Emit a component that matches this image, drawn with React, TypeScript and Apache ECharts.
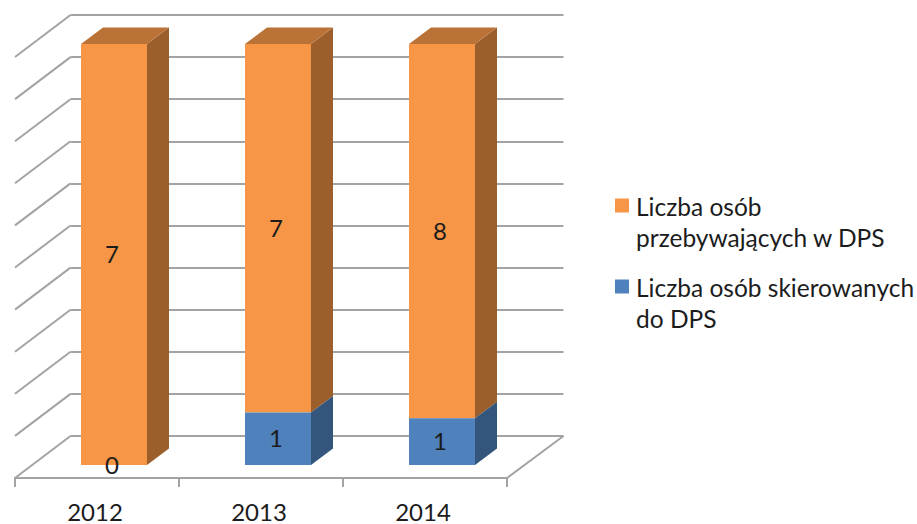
import React, { useEffect, useRef } from "react";
import * as echarts from "echarts";

const categories = ["2012", "2013", "2014"];
const residentsName = "Liczba osób\nprzebywających w DPS";
const referredName = "Liczba osób skierowanych\ndo DPS";
const residents = [7, 7, 8];
const referred = [0, 1, 1];
const wallTicks = [0, 10, 20, 30, 40, 50, 60, 70, 80, 90, 100];

const FONT = "Lato, Carlito, sans-serif";
const TEXT = "#1c1c1c";
const GRID_LINE = "#a3a3a3";

// Depth of the chart floor and of the bars, in pixels of the oblique projection
const FLOOR_DX = 55.5;
const FLOOR_DY = -42;
const BAR_DX = 22;
const BAR_DY = -16.5;
const BAR_WIDTH = 66;

// Excel's 100% stacked column: segments are shares of each year's total
const share = (part: number[], other: number[]) =>
  part.map((v, i) => (v / (v + other[i])) * 100);
const referredShare = share(referred, residents);
const residentsShare = share(residents, referred);

function barSeries(
  name: string,
  counts: number[],
  shares: number[],
  bases: number[],
  colors: { front: string; side: string; top?: string },
  z: number
) {
  return {
    type: "custom",
    name,
    xAxisIndex: 2,
    yAxisIndex: 2,
    z,
    clip: false,
    silent: true,
    itemStyle: { color: colors.front },
    data: counts.map((c, i) => [i, shares[i], bases[i], c]),
    encode: { x: 0, y: 1 },
    renderItem: (_p: any, api: any) => {
      const idx = api.value(0);
      const val = api.value(1);
      const base = api.value(2);
      const count = api.value(3);
      const bottom = api.coord([idx, base]);
      const top = api.coord([idx, base + val]);
      const l = bottom[0] - BAR_WIDTH / 2;
      const r = bottom[0] + BAR_WIDTH / 2;
      const by = bottom[1];
      const ty = top[1];
      const children: any[] = [];
      if (by - ty > 0.01) {
        children.push({
          type: "polygon",
          shape: { points: [[r, by], [r + BAR_DX, by + BAR_DY], [r + BAR_DX, ty + BAR_DY], [r, ty]] },
          style: { fill: colors.side },
        });
        if (colors.top) {
          children.push({
            type: "polygon",
            shape: { points: [[l, ty], [r, ty], [r + BAR_DX, ty + BAR_DY], [l + BAR_DX, ty + BAR_DY]] },
            style: { fill: colors.top },
          });
        }
        children.push({
          type: "rect",
          shape: { x: l, y: ty, width: BAR_WIDTH, height: by - ty },
          style: { fill: colors.front },
        });
      }
      children.push({
        type: "text",
        z2: 10,
        style: {
          x: bottom[0] - 2,
          y: (by + ty) / 2 - 1,
          text: String(count),
          fill: TEXT,
          font: `24px ${FONT}`,
          align: "center",
          verticalAlign: "middle",
        },
      });
      return { type: "group", children };
    },
  };
}

const option: any = {
  animation: false,
  backgroundColor: "#ffffff",
  grid: [
    // front edge of the floor
    { left: 15, width: 492, top: 57, height: 421 },
    // back wall
    { left: 70.5, width: 493, top: 15, height: 421 },
    // plane of the bars' front faces
    { left: 32, width: 492, top: 44, height: 421 },
  ],
  xAxis: [
    {
      gridIndex: 0,
      type: "category",
      data: categories,
      axisLine: { show: true, lineStyle: { color: GRID_LINE, width: 2 } },
      axisTick: { show: true, length: 9, alignWithLabel: false, lineStyle: { color: GRID_LINE, width: 2 } },
      axisLabel: { color: TEXT, fontFamily: FONT, fontSize: 24, margin: 21, padding: [0, 4, 0, 0] },
      splitLine: { show: false },
    },
    {
      gridIndex: 1,
      type: "category",
      data: categories,
      axisLine: { show: false },
      axisTick: { show: false },
      axisLabel: { show: false },
      splitLine: { show: false },
    },
    { gridIndex: 2, type: "category", data: categories, show: false },
  ],
  yAxis: [
    { gridIndex: 0, type: "value", min: 0, max: 100, interval: 10, show: false },
    {
      gridIndex: 1,
      type: "value",
      min: 0,
      max: 100,
      interval: 10,
      axisLine: { show: false },
      axisTick: { show: false },
      axisLabel: { show: false },
      splitLine: { show: true, lineStyle: { color: GRID_LINE, width: 2 } },
    },
    { gridIndex: 2, type: "value", min: 0, max: 100, interval: 10, show: false },
  ],
  legend: {
    show: true,
    orient: "vertical",
    left: 615,
    top: 191,
    padding: 0,
    itemWidth: 16,
    itemHeight: 62,
    itemGap: 19,
    selectedMode: false,
    icon: "path://M0 7.5H14V21.5H0Z M0 0H0Z M16 62H16Z",
    data: [residentsName, referredName],
    textStyle: {
      color: TEXT,
      fontFamily: FONT,
      fontSize: 24.5,
      lineHeight: 31,
    },
  },
  series: [
    {
      type: "custom",
      name: "floor",
      xAxisIndex: 0,
      yAxisIndex: 0,
      z: 1,
      clip: false,
      silent: true,
      data: wallTicks.map((v) => [0, v]),
      encode: { x: 0, y: 1 },
      renderItem: (params: any, api: any) => {
        const v = api.value(1);
        const y = api.coord([0, v])[1];
        const x0 = params.coordSys.x;
        const lineStyle = { stroke: GRID_LINE, lineWidth: 2, fill: "none" };
        const children: any[] = [
          {
            type: "line",
            shape: { x1: x0, y1: y, x2: x0 + FLOOR_DX, y2: y + FLOOR_DY },
            style: lineStyle,
          },
        ];
        if (v === 0) {
          const x1 = x0 + params.coordSys.width;
          children.push({
            type: "line",
            shape: { x1, y1: y, x2: x1 + FLOOR_DX + 1, y2: y + FLOOR_DY },
            style: lineStyle,
          });
        }
        return { type: "group", children };
      },
    },
    barSeries(
      residentsName,
      residents,
      residentsShare,
      referredShare,
      { front: "#F79646", side: "#9C5F2B", top: "#BB7236" },
      3
    ),
    barSeries(
      referredName,
      referred,
      referredShare,
      categories.map(() => 0),
      { front: "#4F81BD", side: "#34567D" },
      4
    ),
  ],
};

export default function App() {
  const ref = useRef<HTMLDivElement>(null);
  useEffect(() => {
    const chart = echarts.init(ref.current!, undefined, { renderer: "svg" });
    chart.setOption(option);
    return () => chart.dispose();
  }, []);
  return (
    <div
      ref={ref}
      style={{ position: "fixed", left: 0, top: 0, width: 917, height: 524, background: "#fff" }}
    />
  );
}
